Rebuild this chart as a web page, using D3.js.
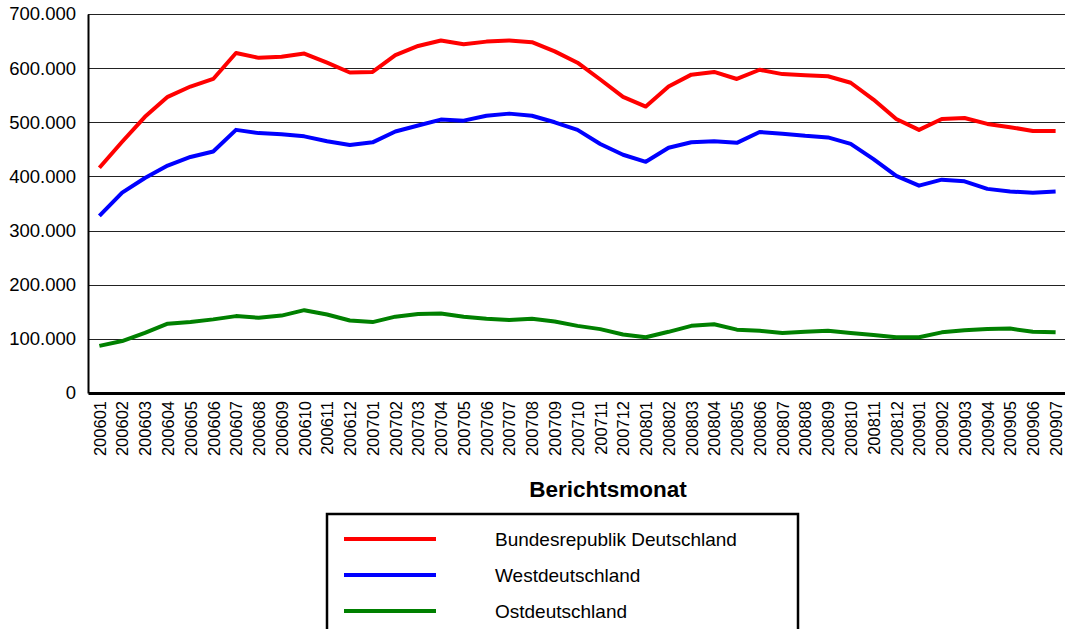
<!DOCTYPE html>
<html>
<head>
<meta charset="utf-8">
<script src="https://cdn.jsdelivr.net/npm/d3@7"></script>
<style>
  body { margin: 0; background: #fff; }
  svg { display: block; font-family: "Liberation Sans", Arial, sans-serif; }
</style>
</head>
<body>
<svg id="chart" width="1065" height="629"></svg>
<script>
// months 200601 .. 200907
const months = ["200601","200602","200603","200604","200605","200606","200607","200608","200609","200610","200611","200612",
  "200701","200702","200703","200704","200705","200706","200707","200708","200709","200710","200711","200712",
  "200801","200802","200803","200804","200805","200806","200807","200808","200809","200810","200811","200812",
  "200901","200902","200903","200904","200905","200906","200907"]

// values in thousands
const brd = [416,464,510,547,566,580,628,619,621,627,610,592,593,624,641,651,644,649,651,648,631,610,579,547,
  529,566,588,593,580,597,589,587,585,573,542,506,486,506,508,497,491,484,484]
const west = [327,370,397,420,436,446,486,480,478,474,465,458,463,483,494,505,503,512,516,512,500,486,460,440,
  427,453,463,465,462,482,479,475,472,460,432,401,383,394,391,377,372,370,372]
const ost = [87,96,111,128,131,136,142,139,143,153,145,134,131,141,146,147,141,137,135,137,132,124,118,108,
  103,113,124,127,117,115,111,113,115,111,107,103,103,112,116,118,119,113,112]

const seriesNames = ["Bundesrepublik Deutschland", "Westdeutschland", "Ostdeutschland"]
const seriesColors = ["#ff0000", "#0000ff", "#008000"]
const yTicks = [0,100000,200000,300000,400000,500000,600000,700000]

const svg = d3.select("#chart")
// plot box
const plotLeft = 88, plotRight = 1067, plotTop = 14, plotBottom = 393

const x = d3.scalePoint().domain(months).range([plotLeft, plotRight]).padding(0.5)
const y = d3.scaleLinear().domain([0, 700000]).range([plotBottom, plotTop])

const de = d3.formatLocale({decimal: ",", thousands: ".", grouping: [3], currency: ["", " €"]})
const fmt = de.format(",")

// gridlines
svg.append("g")
  .selectAll("line")
  .data(yTicks.filter(d => d > 0))
  .join("line")
  .attr("x1", plotLeft).attr("x2", plotRight)
  .attr("y1", d => Math.round(y(d)) + 0.5).attr("y2", d => Math.round(y(d)) + 0.5)
  .attr("stroke", "#222").attr("stroke-width", 1)

// y axis
const yAxis = svg.append("g")
  .attr("transform", `translate(${plotLeft},0)`)
  .call(d3.axisLeft(y).tickValues(yTicks).tickFormat(d => d === 0 ? "0" : fmt(d)).tickSize(0).tickPadding(12))
yAxis.select(".domain").attr("stroke", "#000").attr("stroke-width", 2)
yAxis.selectAll("text").attr("font-size", 18.5).attr("fill", "#000").attr("font-family", "Liberation Sans, Arial, sans-serif")

// x axis
const xAxis = svg.append("g")
  .attr("transform", `translate(0,${plotBottom})`)
  .call(d3.axisBottom(x).tickSize(0).tickPadding(0))
xAxis.select(".domain").attr("stroke", "#000").attr("stroke-width", 3)
xAxis.selectAll("text")
  .attr("font-size", 16.5).attr("fill", "#000").attr("font-family", "Liberation Sans, Arial, sans-serif")
  .attr("transform", "rotate(-90)")
  .attr("text-anchor", "end")
  .attr("dy", "0.35em")
  .attr("x", -8).attr("y", 0)

// lines
const line = d3.line().x((d, i) => x(months[i])).y(d => y(d * 1000))
const allSeries = [brd, west, ost]
svg.append("g")
  .selectAll("path")
  .data(allSeries)
  .join("path")
  .attr("d", d => line(d))
  .attr("fill", "none")
  .attr("stroke", (d, i) => seriesColors[i])
  .attr("stroke-width", 4)
  .attr("stroke-linejoin", "round")

// axis title
svg.append("text")
  .attr("x", 608).attr("y", 497)
  .attr("text-anchor", "middle")
  .attr("font-size", 22.5).attr("font-weight", "bold")
  .text("Berichtsmonat")

// legend
const legend = svg.append("g")
legend.append("rect")
  .attr("x", 327).attr("y", 514).attr("width", 471).attr("height", 130)
  .attr("fill", "#fff").attr("stroke", "#000").attr("stroke-width", 2.5)
const items = legend.selectAll("g.item")
  .data(seriesNames)
  .join("g")
  .attr("transform", (d, i) => `translate(0,${539 + i * 36})`)
items.append("line")
  .attr("x1", 344).attr("x2", 436)
  .attr("stroke", (d, i) => seriesColors[i]).attr("stroke-width", 4)
items.append("text")
  .attr("x", 495).attr("dy", "0.35em")
  .attr("font-size", 19)
  .text(d => d)
</script>
</body>
</html>
